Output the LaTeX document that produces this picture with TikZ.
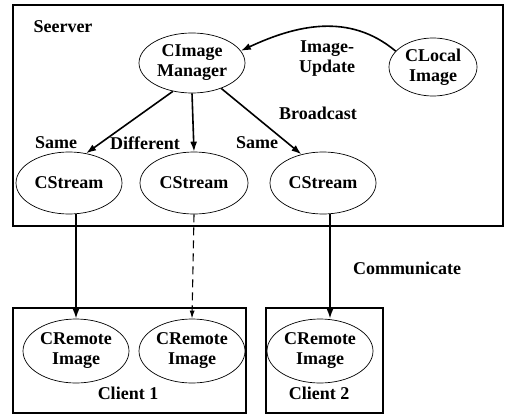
\documentclass[tikz,border=0pt]{standalone}
\usepackage{fontspec}
\setmainfont{Liberation Serif}
\usetikzlibrary{shapes.geometric,arrows.meta}
\begin{document}
\begin{tikzpicture}[x=1pt,y=1pt,
  every node/.style={font=\fontsize{18}{20}\selectfont\bfseries},
  ell/.style={ellipse,draw,line width=0.7pt,inner sep=0pt,align=center,minimum width=106pt,minimum height=62pt},
  box/.style={draw,line width=1.6pt},
  arr/.style={line width=1.6pt,-{Latex[length=10pt,width=7pt]}},
  darr/.style={line width=1.1pt,dash pattern=on 8pt off 5pt,-{Latex[length=8pt,width=5pt]}},
  lbl/.style={inner sep=0pt,align=center}]
\useasboundingbox (0,0) rectangle (513,416);
% boxes
\draw[box] (13,411) rectangle (503,190);
\draw[box] (13,108) rectangle (246,3);
\draw[box] (266,108) rectangle (383,3);
% nodes
\node[ell,minimum height=60pt] (cim) at (192,353) {CImage\\Manager};
\node[ell,minimum width=88pt,minimum height=58pt] (clocal) at (433,349) {CLocal\\Image};
\node[ell] (s1) at (69,233) {CStream};
\node[ell,minimum width=108pt] (s2) at (194,233) {CStream};
\node[ell] (s3) at (323,233) {CStream};
\node[ell,minimum height=64pt] (r1) at (76,65) {CRemote\\Image};
\node[ell,minimum height=64pt] (r2) at (192,65) {CRemote\\Image};
\node[ell,minimum height=64pt] (r3) at (320,65) {CRemote\\Image};
% labels
\node[lbl] (lsrv) at (63,389) {Seerver};
\node[lbl] (lupd) at (327,357) {Image-\\Update};
\node[lbl] (lbc) at (318,303) {Broadcast};
\node[lbl] (lsame1) at (56,273) {Same};
\node[lbl] (ldiff) at (145,273) {Different};
\node[lbl] (lsame2) at (257,273) {Same};
\node[lbl] (lcomm) at (407,148) {Communicate};
\node[lbl] (lc1) at (128,23) {Client 1};
\node[lbl] (lc2) at (319,23) {Client 2};
% connectors
\draw[arr] (clocal.157) to[out=140,in=25] (cim.14);
\draw[arr] (cim.236) -- (s1.60);
\draw[arr] (cim.south) -- (s2.north);
\draw[arr] (cim.319) -- (s3.127);
\draw[arr] (r1.north |- s1.south) -- (r1.north);
\draw[darr] (s2.south) -- (r2.north);
\draw[arr] ([xshift=7pt]s3.south) -- ([xshift=7pt]s3.south |- r3.north);
\end{tikzpicture}
\end{document}
